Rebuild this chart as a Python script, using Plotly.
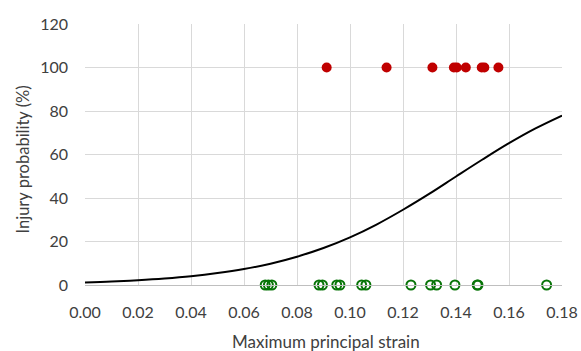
import plotly.graph_objects as go

# Injured (100%) observations
injury_strain = [0.0912, 0.1138, 0.1311, 0.1392, 0.1403, 0.1437, 0.1497, 0.1507, 0.1560]
injury_prob = [100] * len(injury_strain)

# Non-injured (0%) observations
noinj_strain = [0.0680, 0.0692, 0.0705, 0.0883, 0.0896, 0.0950, 0.0962, 0.1044, 0.1060,
                0.1230, 0.1304, 0.1327, 0.1396, 0.1480, 0.1483, 0.1742]
noinj_prob = [0] * len(noinj_strain)

# Risk curve values
curve_strain = [0.00, 0.01, 0.02, 0.03, 0.04, 0.05, 0.06, 0.07, 0.08, 0.09,
                0.10, 0.11, 0.12, 0.13, 0.14, 0.15, 0.16, 0.17, 0.18]
curve_prob = [1.2, 1.6, 2.2, 3.0, 4.05, 5.5, 7.35, 9.8, 13.0, 17.0,
              21.9, 27.8, 34.6, 42.0, 49.9, 57.7, 65.2, 72.0, 77.9]

x_title = "Maximum principal strain"
y_title = "Injury probability (%)"

fig = go.Figure()
fig.add_trace(go.Scatter(x=curve_strain, y=curve_prob, mode="lines",
                         line=dict(color="black", width=2, shape="spline"),
                         showlegend=False, hoverinfo="skip"))
fig.add_trace(go.Scatter(x=noinj_strain, y=noinj_prob, mode="markers",
                         marker=dict(symbol="circle-open", size=9, color="#087408",
                                     line=dict(width=2, color="#087408")),
                         cliponaxis=False, showlegend=False))
fig.add_trace(go.Scatter(x=injury_strain, y=injury_prob, mode="markers",
                         marker=dict(symbol="circle", size=10, color="#C00000"),
                         cliponaxis=False, showlegend=False))

font = "Lato, 'Open Sans', sans-serif"
txt = "#404040"
fig.update_layout(
    width=581, height=351,
    margin=dict(l=85, r=19, t=24, b=66, autoexpand=False),
    plot_bgcolor="white", paper_bgcolor="white",
    font=dict(family=font, size=16, color=txt),
    xaxis=dict(range=[0, 0.18], dtick=0.02, tick0=0, tickformat=".2f",
               showgrid=True, gridcolor="#D9D9D9", gridwidth=1,
               zeroline=False, showline=True, linecolor="#BFBFBF", linewidth=1,
               ticks="", tickfont=dict(size=16, color=txt),
               ticklabelstandoff=13, automargin=False),
    yaxis=dict(range=[0, 120], dtick=20, tick0=0,
               showgrid=True, gridcolor="#D9D9D9", gridwidth=1,
               zeroline=False, showline=False, ticks="",
               tickfont=dict(size=16, color=txt),
               ticklabelstandoff=16, automargin=False),
    annotations=[
        dict(text=x_title, xref="paper", yref="paper", x=0.5, y=0,
             xanchor="center", yanchor="middle", xshift=2, yshift=-56,
             showarrow=False, font=dict(size=17, color=txt)),
        dict(text=y_title, xref="paper", yref="paper", x=0, y=0.5,
             xanchor="center", yanchor="middle", xshift=-63, yshift=-5,
             textangle=-90, showarrow=False, font=dict(size=16.5, color=txt)),
    ],
)

fig.write_html("out.html", config={"displayModeBar": False},
               post_script="document.body.style.margin='0';document.body.style.overflow='hidden';")
